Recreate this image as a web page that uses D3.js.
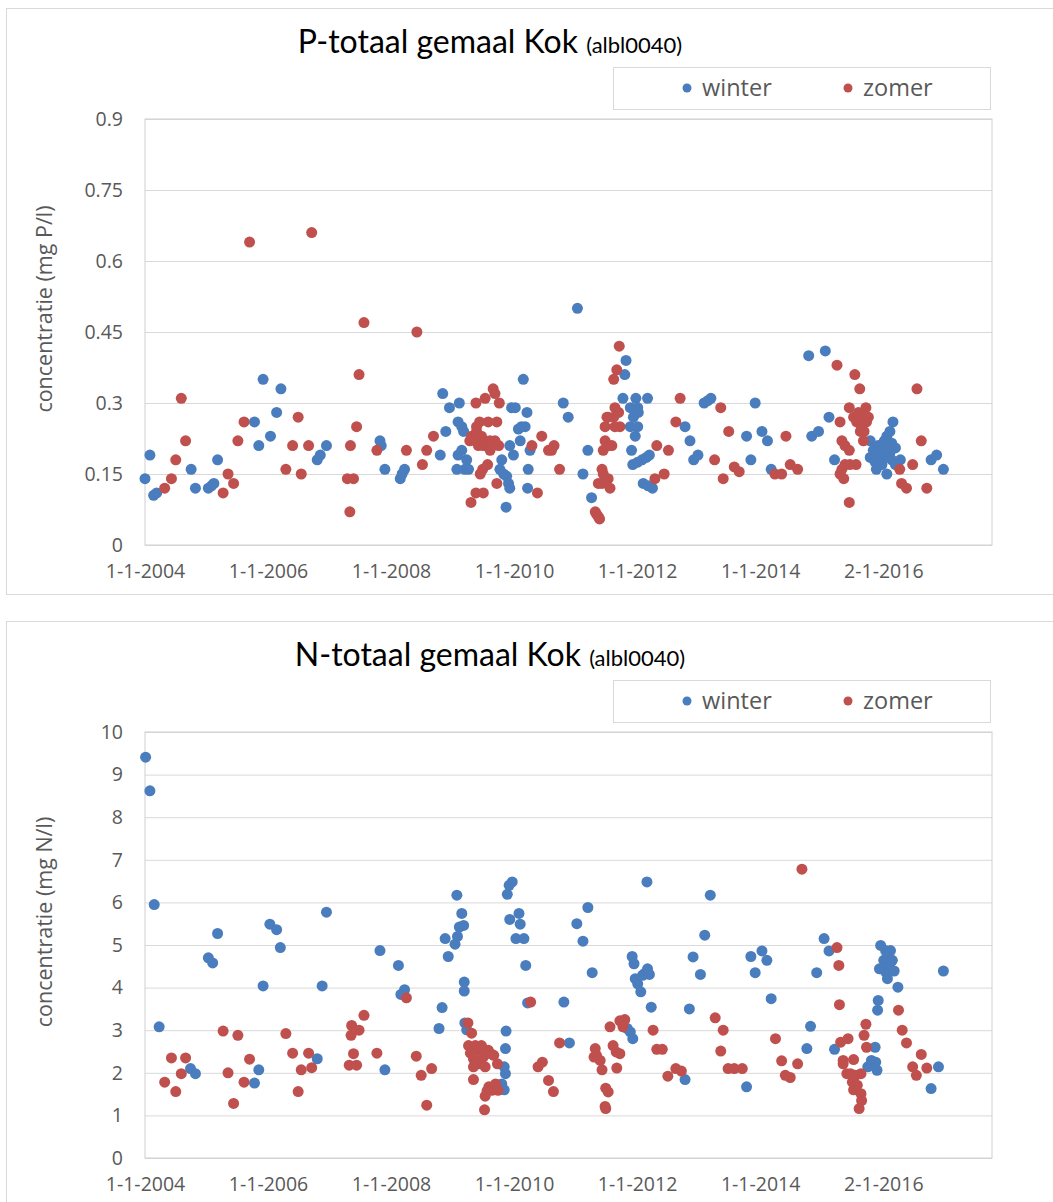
<!DOCTYPE html>
<html lang="nl">
<head>
<meta charset="UTF-8">
<title>P-totaal en N-totaal gemaal Kok</title>
<script src="https://d3js.org/d3.v7.min.js"></script>
<style>
    body { margin: 0; background: #fff; }
    svg text { font-family: "Open Sans", sans-serif; fill: #595959; }
    .title text { font-family: Lato, sans-serif; fill: #000; }
</style>
</head>
<body>
<svg id="chart" width="1053" height="1202"></svg>
<script>
// x values: decimal years; y values: concentration
var xTickYears  = [2004, 2006, 2008, 2010, 2012, 2014, 2016.003];
var xTickLabels = ["1-1-2004", "1-1-2006", "1-1-2008", "1-1-2010", "1-1-2012", "1-1-2014", "2-1-2016"];

var pTicks = [0, 0.15, 0.3, 0.45, 0.6, 0.75, 0.9];
var pTickLabels = ["0", "0.15", "0.3", "0.45", "0.6", "0.75", "0.9"];
var nTicks = [0, 1, 2, 3, 4, 5, 6, 7, 8, 9, 10];

var pWinter = [
 [2004.00,0.14],[2004.08,0.19],[2004.14,0.105],[2004.19,0.11],[2004.75,0.16],[2004.82,0.12],[2005.03,0.12],[2005.08,0.125],
 [2005.12,0.13],[2005.18,0.18],[2005.78,0.26],[2005.85,0.21],[2005.92,0.35],[2006.04,0.23],[2006.14,0.28],[2006.21,0.33],
 [2006.80,0.18],[2006.85,0.19],[2006.95,0.21],[2007.82,0.22],[2007.84,0.21],[2007.90,0.16],[2008.15,0.14],[2008.18,0.15],
 [2008.22,0.16],[2008.80,0.19],[2008.84,0.32],[2008.89,0.24],[2008.95,0.29],[2009.07,0.16],[2009.09,0.19],[2009.09,0.26],
 [2009.11,0.30],[2009.15,0.25],[2009.15,0.20],[2009.18,0.24],[2009.20,0.16],[2009.23,0.18],[2009.26,0.16],
 [2009.77,0.16],[2009.80,0.18],[2009.83,0.15],[2009.87,0.08],[2009.88,0.145],[2009.91,0.13],[2009.93,0.12],[2009.93,0.21],
 [2009.96,0.29],[2009.99,0.19],[2010.02,0.29],[2010.07,0.245],[2010.10,0.22],[2010.12,0.25],[2010.15,0.35],[2010.18,0.25],
 [2010.21,0.28],[2010.22,0.12],[2010.23,0.16],[2010.26,0.20],[2010.80,0.30],[2010.88,0.27],[2011.03,0.50],[2011.12,0.15],
 [2011.20,0.20],[2011.26,0.10],[2011.77,0.31],[2011.80,0.36],[2011.82,0.39],[2011.89,0.29],[2011.89,0.25],[2011.91,0.20],
 [2011.93,0.17],[2011.94,0.27],[2011.97,0.23],[2011.98,0.31],[2012.01,0.29],[2012.02,0.28],[2012.01,0.25],[2012.01,0.175],
 [2012.08,0.18],[2012.15,0.185],[2012.20,0.19],[2012.17,0.31],[2012.10,0.13],[2012.18,0.125],[2012.25,0.12],
 [2012.78,0.25],[2012.86,0.22],[2012.92,0.18],[2012.99,0.19],[2013.09,0.30],[2013.15,0.305],[2013.20,0.31],[2013.78,0.23],
 [2013.85,0.18],[2013.92,0.30],[2014.03,0.24],[2014.12,0.22],[2014.18,0.16],[2014.79,0.40],[2014.84,0.23],[2014.95,0.24],
 [2015.06,0.41],[2015.12,0.27],[2015.21,0.18],[2015.79,0.22],[2015.79,0.185],[2015.84,0.20],[2015.87,0.175],[2015.89,0.16],
 [2015.90,0.185],[2015.92,0.21],[2015.98,0.20],[2015.98,0.17],[2016.02,0.22],[2016.02,0.185],[2016.06,0.23],[2016.06,0.21],
 [2016.06,0.15],[2016.11,0.24],[2016.11,0.195],[2016.14,0.215],[2016.14,0.18],[2016.16,0.26],[2016.20,0.205],[2016.20,0.17],
 [2016.28,0.18],[2016.78,0.18],[2016.87,0.19],[2016.98,0.16]
];

var pSummer = [
 [2004.32,0.12],[2004.43,0.14],[2004.50,0.18],[2004.59,0.31],[2004.66,0.22],[2005.27,0.11],[2005.35,0.15],[2005.44,0.13],
 [2005.51,0.22],[2005.61,0.26],[2005.70,0.64],[2006.29,0.16],[2006.40,0.21],[2006.49,0.27],[2006.54,0.15],[2006.66,0.21],
 [2006.71,0.66],[2007.29,0.14],[2007.33,0.07],[2007.34,0.21],[2007.39,0.14],[2007.44,0.25],[2007.48,0.36],[2007.56,0.47],
 [2007.77,0.20],[2008.25,0.20],[2008.42,0.45],[2008.51,0.17],[2008.58,0.20],[2008.69,0.23],
 [2009.28,0.22],[2009.30,0.09],[2009.31,0.23],[2009.37,0.22],[2009.38,0.30],[2009.38,0.11],[2009.39,0.24],[2009.39,0.25],
 [2009.42,0.21],[2009.44,0.26],[2009.45,0.22],[2009.45,0.15],[2009.47,0.23],[2009.49,0.16],[2009.50,0.21],[2009.50,0.11],
 [2009.53,0.31],[2009.53,0.22],[2009.56,0.21],[2009.57,0.17],[2009.58,0.26],[2009.61,0.22],[2009.61,0.20],[2009.64,0.21],
 [2009.66,0.33],[2009.69,0.32],[2009.69,0.22],[2009.72,0.26],[2009.72,0.13],[2009.75,0.21],[2009.76,0.30],
 [2010.29,0.21],[2010.38,0.11],[2010.45,0.23],[2010.56,0.20],[2010.61,0.20],[2010.65,0.21],[2010.74,0.16],
 [2011.32,0.07],[2011.34,0.065],[2011.37,0.06],[2011.39,0.055],[2011.37,0.13],[2011.43,0.13],[2011.43,0.16],[2011.45,0.15],
 [2011.45,0.20],[2011.48,0.22],[2011.48,0.25],[2011.51,0.27],[2011.53,0.27],[2011.53,0.21],[2011.53,0.14],[2011.56,0.12],
 [2011.59,0.21],[2011.62,0.27],[2011.62,0.35],[2011.64,0.29],[2011.64,0.25],[2011.67,0.37],[2011.70,0.28],[2011.71,0.42],
 [2011.72,0.25],[2012.29,0.14],[2012.32,0.21],[2012.44,0.15],[2012.51,0.20],[2012.63,0.26],[2012.70,0.31],
 [2013.26,0.18],[2013.36,0.29],[2013.40,0.14],[2013.49,0.24],[2013.58,0.165],[2013.66,0.155],[2014.24,0.15],[2014.35,0.15],
 [2014.42,0.23],[2014.49,0.17],[2014.61,0.16],[2015.25,0.38],[2015.30,0.26],[2015.30,0.15],[2015.33,0.22],[2015.33,0.16],
 [2015.36,0.14],[2015.38,0.21],[2015.38,0.17],[2015.45,0.29],[2015.45,0.20],[2015.45,0.09],[2015.46,0.17],[2015.52,0.27],
 [2015.54,0.36],[2015.56,0.17],[2015.57,0.26],[2015.60,0.28],[2015.62,0.33],[2015.63,0.24],[2015.65,0.25],[2015.68,0.27],
 [2015.68,0.22],[2015.69,0.24],[2015.72,0.29],[2015.73,0.26],[2015.76,0.27],[2016.27,0.16],[2016.30,0.13],[2016.38,0.12],
 [2016.48,0.17],[2016.55,0.33],[2016.62,0.22],[2016.71,0.12]
];

var nWinter = [
 [2004.01,9.41],[2004.08,8.62],[2004.15,5.95],[2004.23,3.08],[2004.74,2.10],[2004.82,1.98],[2005.03,4.70],[2005.10,4.58],
 [2005.18,5.27],[2005.78,1.76],[2005.85,2.07],[2005.92,4.04],[2006.03,5.49],[2006.14,5.36],[2006.20,4.94],[2006.80,2.33],
 [2006.88,4.04],[2006.95,5.77],[2007.82,4.87],[2007.90,2.07],[2008.12,4.52],[2008.16,3.84],[2008.22,3.95],
 [2008.78,3.04],[2008.83,3.53],[2008.88,5.15],[2008.93,4.73],[2009.04,5.02],[2009.07,6.17],[2009.08,5.20],[2009.11,5.42],
 [2009.15,5.74],[2009.18,5.46],[2009.19,4.13],[2009.19,3.92],[2009.20,3.17],[2009.23,3.01],
 [2009.80,1.74],[2009.84,2.14],[2009.84,1.60],[2009.86,1.98],[2009.86,2.57],[2009.87,2.98],[2009.89,6.19],[2009.92,6.40],
 [2009.93,5.60],[2009.97,6.48],[2010.03,5.15],[2010.08,5.74],[2010.10,5.49],[2010.16,5.15],[2010.19,4.52],[2010.22,3.64],
 [2010.81,3.66],[2010.90,2.70],[2011.02,5.50],[2011.12,5.09],[2011.20,5.88],[2011.27,4.35],
 [2011.84,3.04],[2011.89,2.96],[2011.92,4.73],[2011.93,2.80],[2011.95,4.56],[2011.97,4.21],[2012.01,4.09],[2012.06,3.90],
 [2012.09,4.29],[2012.12,4.33],[2012.16,6.48],[2012.17,4.44],[2012.20,4.31],[2012.23,3.54],
 [2012.78,1.84],[2012.85,3.50],[2012.91,4.72],[2013.03,4.31],[2013.10,5.23],[2013.19,6.17],
 [2013.78,1.67],[2013.85,4.73],[2013.92,4.35],[2014.03,4.86],[2014.11,4.64],[2014.18,3.74],
 [2014.76,2.57],[2014.82,3.09],[2014.92,4.35],[2015.04,5.15],[2015.12,4.86],[2015.21,2.55],
 [2015.75,2.14],[2015.81,2.29],[2015.87,2.60],[2015.88,2.25],[2015.90,2.06],[2015.91,3.47],[2015.92,3.70],[2015.94,4.44],
 [2015.96,4.99],[2016.01,4.64],[2016.04,4.87],[2016.04,4.37],[2016.07,4.80],[2016.07,4.21],[2016.10,4.52],[2016.12,4.87],
 [2016.15,4.64],[2016.18,4.39],[2016.24,4.01],[2016.78,1.63],[2016.90,2.14],[2016.98,4.39]
];

var nSummer = [
 [2004.32,1.78],[2004.43,2.35],[2004.50,1.56],[2004.59,1.98],[2004.66,2.35],[2005.27,2.98],[2005.35,2.00],[2005.44,1.28],
 [2005.51,2.88],[2005.61,1.78],[2005.70,2.32],[2006.29,2.92],[2006.40,2.46],[2006.49,1.56],[2006.54,2.07],[2006.66,2.46],
 [2006.71,2.12],[2007.32,2.18],[2007.35,2.88],[2007.36,3.11],[2007.39,2.45],[2007.44,2.18],[2007.48,3.00],[2007.56,3.35],
 [2007.77,2.46],[2008.25,3.76],[2008.41,2.39],[2008.49,1.94],[2008.58,1.24],[2008.66,2.10],
 [2009.25,3.17],[2009.26,2.64],[2009.29,2.46],[2009.31,2.93],[2009.34,1.84],[2009.34,2.33],[2009.34,2.14],[2009.37,2.64],
 [2009.42,2.53],[2009.42,2.21],[2009.47,2.64],[2009.50,2.37],[2009.52,1.13],[2009.53,1.45],[2009.53,2.14],[2009.56,1.57],
 [2009.58,2.53],[2009.59,1.67],[2009.62,2.45],[2009.64,1.59],[2009.67,2.41],[2009.70,1.74],[2009.73,2.21],[2009.74,1.59],
 [2010.27,3.66],[2010.39,2.14],[2010.46,2.25],[2010.56,1.82],[2010.64,1.56],[2010.74,2.70],
 [2011.30,2.37],[2011.32,2.57],[2011.34,2.41],[2011.40,2.29],[2011.43,2.07],[2011.48,1.21],[2011.49,1.64],[2011.49,1.16],
 [2011.53,1.55],[2011.56,3.08],[2011.61,2.64],[2011.66,2.49],[2011.67,2.11],[2011.72,2.45],[2011.72,3.22],[2011.77,3.08],
 [2011.80,3.25],[2012.26,3.00],[2012.32,2.55],[2012.41,2.55],[2012.50,1.92],[2012.63,2.10],[2012.72,2.04],
 [2013.27,3.29],[2013.36,2.51],[2013.40,3.00],[2013.48,2.10],[2013.58,2.10],[2013.71,2.10],
 [2014.25,2.80],[2014.35,2.28],[2014.41,1.94],[2014.49,1.89],[2014.61,2.21],[2014.68,6.78],
 [2015.25,4.94],[2015.28,4.52],[2015.29,3.60],[2015.31,2.72],[2015.35,2.29],[2015.35,2.21],[2015.41,1.98],[2015.43,2.80],
 [2015.47,1.98],[2015.50,1.78],[2015.52,2.31],[2015.52,1.60],[2015.55,1.94],[2015.58,1.71],[2015.61,1.16],[2015.64,1.98],
 [2015.64,1.51],[2015.65,1.35],[2015.69,2.88],[2015.72,3.14],[2015.73,2.60],
 [2016.25,3.47],[2016.31,3.00],[2016.38,2.70],[2016.48,2.14],[2016.54,1.94],[2016.62,2.43],[2016.71,2.11]
];

var seriesNames = ["winter", "zomer"];
var seriesColors = ["#4a7dbd", "#c0504d"];

var svg = d3.select("#chart");

// plot area (same for both charts, second chart shifted down)
var plotLeft = 145, plotRight = 992, plotTop = 119, plotBottom = 545;

var x = d3.scaleLinear().domain([2004, 2017.77]).range([plotLeft, plotRight]);

function drawChart(offset, title, yTitle, yDomain, yTicks, yLabels, winter, summer) {
    var g = svg.append("g").attr("transform", "translate(0," + offset + ")");

    // chart frame
    g.append("rect")
        .attr("x", 6.5).attr("y", 8.5)
        .attr("width", 1060).attr("height", 586)
        .attr("fill", "#fff").attr("stroke", "#d9d9d9");

    var y = d3.scaleLinear().domain(yDomain).range([plotBottom, plotTop]);

    // gridlines + y labels
    var yAxis = d3.axisLeft(y)
        .tickValues(yTicks)
        .tickSize(-(plotRight - plotLeft))
        .tickPadding(22)
        .tickFormat(function (d, i) { return yLabels[i]; });
    var ya = g.append("g").attr("transform", "translate(" + plotLeft + ",0)").call(yAxis);
    ya.select(".domain").remove();
    ya.selectAll("line").attr("stroke", "#d9d9d9");
    ya.selectAll("text").attr("font-size", "19.5px").attr("fill", "#595959")
        .style("font-family", "'Open Sans', sans-serif");

    // plot area border
    g.append("rect")
        .attr("x", plotLeft).attr("y", plotTop)
        .attr("width", plotRight - plotLeft).attr("height", plotBottom - plotTop)
        .attr("fill", "none").attr("stroke", "#d0d0d0");

    // x labels
    var xAxis = d3.axisBottom(x)
        .tickValues(xTickYears)
        .tickSize(0)
        .tickPadding(19)
        .tickFormat(function (d, i) { return xTickLabels[i]; });
    var xa = g.append("g").attr("transform", "translate(0," + plotBottom + ")").call(xAxis);
    xa.select(".domain").remove();
    xa.selectAll("text").attr("font-size", "19.5px").attr("fill", "#595959")
        .style("font-family", "'Open Sans', sans-serif");

    // y axis title
    g.append("text")
        .attr("transform", "translate(44,309) rotate(-90)")
        .attr("text-anchor", "middle")
        .attr("dy", "0.35em")
        .attr("font-size", "21.5px")
        .text(yTitle);

    // title
    var t = g.append("g").attr("class", "title").append("text")
        .attr("x", 490).attr("y", 53)
        .attr("text-anchor", "middle");
    t.append("tspan").attr("font-size", "32px").text(title + " ");
    t.append("tspan").attr("font-size", "22px").text("(albl0040)");

    // points
    [winter, summer].forEach(function (data, s) {
        g.append("g").selectAll("circle")
            .data(data)
            .enter().append("circle")
            .attr("cx", function (d) { return x(d[0]); })
            .attr("cy", function (d) { return y(d[1]); })
            .attr("r", 5.5)
            .attr("fill", seriesColors[s]);
    });

    // legend
    var lg = g.append("g");
    lg.append("rect")
        .attr("x", 613.5).attr("y", 67.5)
        .attr("width", 377).attr("height", 42)
        .attr("fill", "#fff").attr("stroke", "#d9d9d9");
    var legX = [687, 848];
    seriesNames.forEach(function (name, s) {
        lg.append("circle").attr("cx", legX[s]).attr("cy", 88).attr("r", 4.5).attr("fill", seriesColors[s]);
        lg.append("text").attr("x", legX[s] + 15).attr("y", 88).attr("dy", "0.35em")
            .attr("font-size", "23.5px").text(name);
    });
}

drawChart(0, "P-totaal gemaal Kok", "concentratie (mg P/l)", [0, 0.9], pTicks, pTickLabels, pWinter, pSummer);
drawChart(613, "N-totaal gemaal Kok", "concentratie (mg N/l)", [0, 10], nTicks, nTicks.map(String), nWinter, nSummer);
</script>
</body>
</html>
